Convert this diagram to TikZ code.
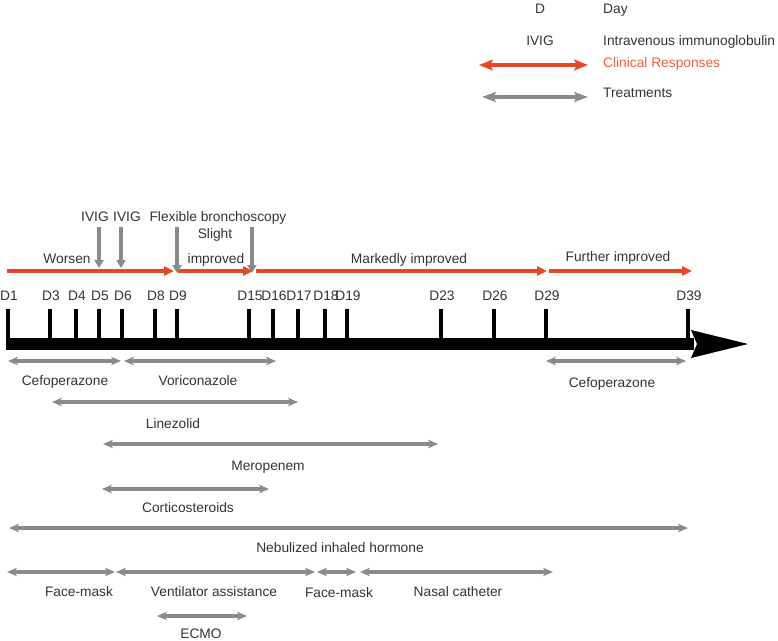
\documentclass[tikz,border=0pt]{standalone}
\usepackage{fontspec}
\setmainfont{Liberation Sans}
\usetikzlibrary{arrows.meta}
\definecolor{resp}{RGB}{230,72,38}
\definecolor{resptxt}{RGB}{234,96,62}
\definecolor{treat}{RGB}{138,138,138}
\definecolor{txt}{RGB}{51,51,51}
\begin{document}
\begin{tikzpicture}[x=1pt,y=-1pt,
  lbl/.style={font=\fontsize{13.75}{16}\selectfont, text=txt, inner sep=0pt, anchor=base},
  legl/.style={lbl, anchor=base west},
  resparrow/.style={draw=resp, line width=3.5pt, -{Triangle[length=10pt,width=9pt]}},
  treatarrow/.style={draw=treat, line width=3.4pt, {Stealth[length=10pt,width=8.5pt,inset=3pt]}-{Stealth[length=10pt,width=8.5pt,inset=3pt]}},
  downarrow/.style={draw=treat, line width=4.5pt, -{Triangle[length=8pt,width=9pt]}},
  tickmark/.style={draw=black, line width=4pt},
]
\useasboundingbox (0,0) rectangle (778,640);

% ---------- legend ----------
\node[lbl] (legD) at (540,13) {D};
\node[legl] (legDay) at (603,13) {Day};
\node[lbl] (legIVIG) at (540,45) {IVIG};
\node[legl] (legIVIGt) at (603,45) {Intravenous immunoglobulin};
\node[legl, text=resptxt] (legCR) at (603,67) {Clinical Responses};
\node[legl] (legTr) at (603,97) {Treatments};
\coordinate (lr0) at (479,65); \coordinate (lr1) at (588,65);
\coordinate (lg0) at (482,97); \coordinate (lg1) at (588,97);
\draw[draw=resp, line width=4.5pt, {Stealth[length=14pt,width=11pt,inset=3pt]}-{Stealth[length=14pt,width=11pt,inset=3pt]}] (lr0) -- (lr1);
\draw[draw=treat, line width=4.3pt, {Stealth[length=14pt,width=10pt,inset=3pt]}-{Stealth[length=14pt,width=10pt,inset=3pt]}] (lg0) -- (lg1);

% ---------- axis ----------
\fill[black] (6,338) rectangle (694,350);
\fill[black] (691,330) -- (748,344) -- (691,358) -- (697,344) -- cycle;
\foreach \n/\x in {1/8,3/50,4/76,5/99,6/122,8/155,9/177,15/249,16/273,17/298,18/325,19/347,23/441,26/494,29/546,39/688}{
  \draw[tickmark] (\x,309) -- (\x,340);
  \node[lbl] (d\n) at (\x+1,300) {D\n};
}

% ---------- clinical responses ----------
\coordinate (r0) at (7,271);   \coordinate (r1) at (174,271);
\coordinate (r2) at (178,271); \coordinate (r3) at (253,271);
\coordinate (r4) at (256,271); \coordinate (r5) at (547,271);
\coordinate (r6) at (549,271); \coordinate (r7) at (692,271);
\draw[resparrow] (r0) -- (r1);
\draw[resparrow] (r2) -- (r3);
\draw[resparrow] (r4) -- (r5);
\draw[resparrow] (r6) -- (r7);
\node[lbl] (worsen) at (67,263) {Worsen};
\node[lbl] (slight) at (215,238) {Slight};
\node[lbl] (improved) at (216,263) {improved};
\node[lbl] (marked) at (409,263) {Markedly improved};
\node[lbl] (further) at (618,261) {Further improved};

% ---------- interventions ----------
\node[lbl] (ivig1) at (95,221) {IVIG};
\node[lbl] (ivig2) at (127,221) {IVIG};
\node[lbl] (fb) at (218,221) {Flexible bronchoscopy};
\coordinate (a1s) at (99,227);  \coordinate (a1e) at (99,268);
\coordinate (a2s) at (121,227); \coordinate (a2e) at (121,268);
\coordinate (a3s) at (177,227); \coordinate (a3e) at (177,273);
\coordinate (a4s) at (252,227); \coordinate (a4e) at (252,273);
\draw[downarrow] (a1s) -- (a1e);
\draw[downarrow] (a2s) -- (a2e);
\draw[downarrow] (a3s) -- (a3e);
\draw[downarrow] (a4s) -- (a4e);

% ---------- treatments ----------
\foreach \nm/\xa/\xb/\y in {cefa/8/121/361, vori/124/276/361, cefb/546/686/361,
  line/52/298/402, mero/103/438/444, cort/102/269/489, nebu/9/688/528,
  fma/7/115/572, vent/116/315/572, fmb/317/356/572, nasal/360/553/572, ecmo/157/247/616}{
  \coordinate (\nm0) at (\xa,\y);
  \coordinate (\nm1) at (\xb,\y);
  \draw[treatarrow] (\nm0) -- (\nm1);
}
\node[lbl] (tcefa) at (65,385) {Cefoperazone};
\node[lbl] (tvori) at (198,385) {Voriconazole};
\node[lbl] (tcefb) at (612,387) {Cefoperazone};
\node[lbl] (tline) at (173,428) {Linezolid};
\node[lbl] (tmero) at (268,470) {Meropenem};
\node[lbl] (tcort) at (188,512) {Corticosteroids};
\node[lbl] (tnebu) at (340,552) {Nebulized inhaled hormone};
\node[lbl] (tfma) at (79,596) {Face-mask};
\node[lbl] (tvent) at (214,596) {Ventilator assistance};
\node[lbl] (tfmb) at (339,597) {Face-mask};
\node[lbl] (tnasal) at (458,596) {Nasal catheter};
\node[lbl] (tecmo) at (201,638) {ECMO};
\end{tikzpicture}
\end{document}
